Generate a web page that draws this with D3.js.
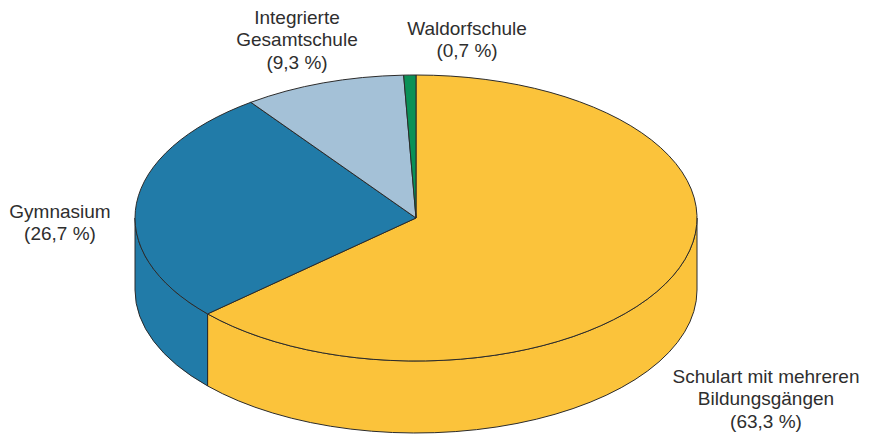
<!DOCTYPE html>
<html>
<head>
<meta charset="utf-8">
<script src="https://cdn.jsdelivr.net/npm/d3@7"></script>
<style>
body { margin: 0; background: #fff; }
text { font-family: "Liberation Sans", Arial, sans-serif; fill: #2e2e2e; }
</style>
</head>
<body>
<script>
var categories = ["Schulart mit mehreren Bildungsgängen", "Gymnasium", "Integrierte Gesamtschule", "Waldorfschule"];
var values = [63.3, 26.7, 9.3, 0.7];
var colors = ["#fbc33b", "#217ba8", "#a4c1d7", "#0a9157"];
var labelLines = [
    ["Schulart mit mehreren", "Bildungsgängen", "(63,3 %)"],
    ["Gymnasium", "(26,7 %)"],
    ["Integrierte", "Gesamtschule", "(9,3 %)"],
    ["Waldorfschule", "(0,7 %)"]
];

var totalWidth = 872, totalHeight = 436;
var cx = 416, cy = 218, rx = 281, ry = 143, depth = 72;
// baseline of the first line of each label
var labelPos = [[766, 383], [60, 218], [297, 24], [467, 35]];
var lineHeight = 22.3;

var svg = d3.select("body")
    .append("svg")
    .attr("width", totalWidth)
    .attr("height", totalHeight);

var pie = d3.pie().sort(null).value(function(d){ return d; });
var arcs = pie(values);

function px(a){ return cx + rx * Math.sin(a); }
function py(a){ return cy - ry * Math.cos(a); }

function topPath(d){
    var large = (d.endAngle - d.startAngle) > Math.PI ? 1 : 0;
    return "M" + cx + "," + cy +
        "L" + px(d.startAngle) + "," + py(d.startAngle) +
        "A" + rx + "," + ry + " 0 " + large + " 1 " + px(d.endAngle) + "," + py(d.endAngle) + "Z";
}

// outer wall, only the front half (90..270 deg) is visible
function sidePath(d){
    var s = Math.max(d.startAngle, Math.PI / 2);
    var e = Math.min(d.endAngle, 3 * Math.PI / 2);
    if (e <= s) return null;
    var large = (e - s) > Math.PI ? 1 : 0;
    return "M" + px(s) + "," + py(s) +
        "A" + rx + "," + ry + " 0 " + large + " 1 " + px(e) + "," + py(e) +
        "L" + px(e) + "," + (py(e) + depth) +
        "A" + rx + "," + ry + " 0 " + large + " 0 " + px(s) + "," + (py(s) + depth) + "Z";
}

var g = svg.append("g");

g.selectAll("path.side")
    .data(arcs.filter(function(d){ return sidePath(d) !== null; }))
    .enter()
    .append("path")
    .attr("class", "side")
    .attr("d", sidePath)
    .attr("fill", function(d){ return colors[d.index]; })
    .attr("stroke", "#2b2b2b")
    .attr("stroke-width", 1)
    .attr("stroke-linejoin", "round");

g.selectAll("path.top")
    .data(arcs)
    .enter()
    .append("path")
    .attr("class", "top")
    .attr("d", topPath)
    .attr("fill", function(d){ return colors[d.index]; })
    .attr("stroke", "#2b2b2b")
    .attr("stroke-width", 1)
    .attr("stroke-linejoin", "round");

var labels = svg.selectAll("text.label")
    .data(categories)
    .enter()
    .append("text")
    .attr("class", "label")
    .attr("text-anchor", "middle")
    .style("font-size", "19px");

labels.each(function(d, i){
    var t = d3.select(this);
    labelLines[i].forEach(function(line, j){
        t.append("tspan")
            .attr("x", labelPos[i][0])
            .attr("y", labelPos[i][1] + j * lineHeight)
            .text(line);
    });
});
</script>
</body>
</html>
